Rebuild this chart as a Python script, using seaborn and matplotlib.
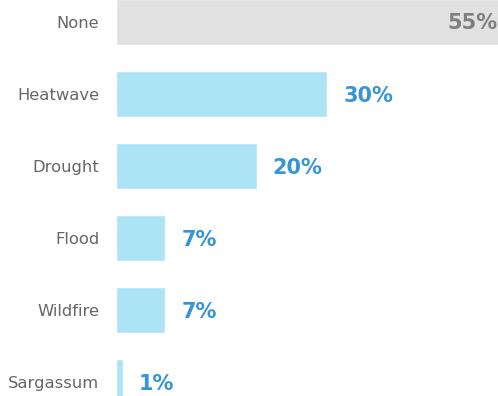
import matplotlib
matplotlib.use("Agg")
import matplotlib.pyplot as plt
import seaborn as sns
import pandas as pd

categories = ["None", "Heatwave", "Drought", "Flood", "Wildfire", "Sargassum"]
shares = [55, 30, 20, 7, 7, 1]
labels = ["55%", "30%", "20%", "7%", "7%", "1%"]

sns.set_theme(style="white")
plt.rcParams["font.family"] = ["DejaVu Sans"]

df = pd.DataFrame({"category": categories, "share": shares})
palette = ["#e1e1e1"] + ["#ade4f5"] * (len(categories) - 1)

fig = plt.figure(figsize=(4.98, 3.96), dpi=100)
ax = fig.add_axes([116 / 498, 0, 1 - 116 / 498, 1])

sns.barplot(data=df, x="share", y="category", hue="category", palette=palette,
            width=0.64, legend=False, ax=ax, saturation=1)

px_per_pct = 7.04
ax.set_xlim(0, 382 / px_per_pct)
ax.set_ylim(374 / 72, -22 / 72)
ax.set_xlabel("")
ax.set_ylabel("")
ax.set_xticks([])
for s in ax.spines.values():
    s.set_visible(False)

ax.tick_params(axis="y", length=0, pad=12, labelcolor="#666666")
for t in ax.get_yticklabels():
    t.set_fontsize(11.8)
    t.set_fontweight("normal")

for i, (v, lab) in enumerate(zip(shares, labels)):
    if i == 0:
        ax.text(ax.get_xlim()[1] - 0.1, i + 0.02, lab, ha="right", va="center",
                fontsize=15, fontweight="bold", color="#7f7f7f")
    else:
        ax.text(v + 16 / px_per_pct, i + 0.03, lab, ha="left", va="center",
                fontsize=15, fontweight="bold", color="#3795d6")

fig.savefig("out.png", dpi=100)
